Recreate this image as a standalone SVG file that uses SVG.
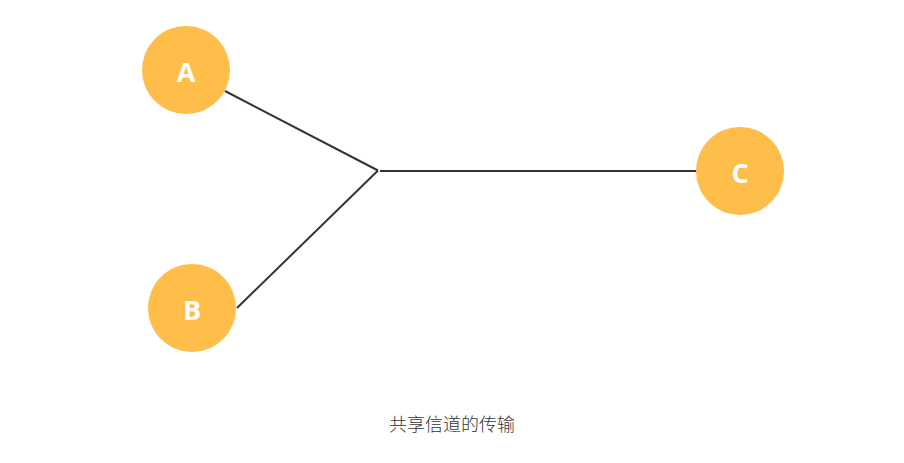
<svg xmlns="http://www.w3.org/2000/svg" width="904" height="463" viewBox="0 0 904 463">
<style>
.node circle{fill:#FFBD4A}
.node text{fill:#fff;font-family:"Open Sans","Liberation Sans",sans-serif;font-weight:bold;font-size:27px;text-anchor:middle;dominant-baseline:central}
.conn line{stroke:#333;stroke-width:2;fill:none}
.cap{fill:#333;font-family:"Noto Sans CJK SC","Liberation Sans",sans-serif;font-size:18px;font-weight:300;text-anchor:middle}
</style>
<rect width="904" height="463" fill="#fff"/>
<g id="connectors" class="conn">
<line x1="225" y1="91" x2="378" y2="170.5"/>
<line x1="237" y1="308" x2="378" y2="170.5"/>
<line x1="380" y1="171" x2="697" y2="171"/>
</g>
<g id="A" class="node"><circle cx="186" cy="70" r="44"/><text x="186" y="71">A</text></g>
<g id="B" class="node"><circle cx="192" cy="308" r="44"/><text x="192" y="309">B</text></g>
<g id="C" class="node"><circle cx="740" cy="171" r="44"/><text x="740" y="172">C</text></g>
<text class="cap" x="452" y="431">共享信道的传输</text>
</svg>
